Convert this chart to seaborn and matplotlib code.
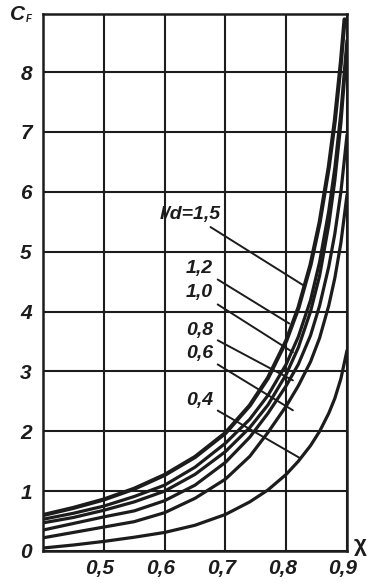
import matplotlib
matplotlib.use("Agg")
import matplotlib.pyplot as plt
import matplotlib.transforms as mtransforms
import numpy as np
import pandas as pd
import seaborn as sns

# ---- data ----
curve_labels = ["l/d=1,5", "1,2", "1,0", "0,8", "0,6", "0,4"]

chi_15 = [0.40, 0.45, 0.50, 0.55, 0.60, 0.65, 0.70, 0.74, 0.77, 0.80, 0.82, 0.84, 0.855, 0.87, 0.88, 0.89, 0.896]
cf_15 = [0.60, 0.72, 0.86, 1.04, 1.27, 1.57, 1.97, 2.43, 2.89, 3.51, 4.06, 4.78, 5.49, 6.41, 7.19, 8.17, 8.88]

chi_12 = [0.40, 0.45, 0.50, 0.55, 0.60, 0.65, 0.70, 0.74, 0.77, 0.80, 0.82, 0.84, 0.855, 0.87, 0.88, 0.89, 0.90]
cf_12 = [0.53, 0.63, 0.75, 0.91, 1.10, 1.40, 1.80, 2.20, 2.60, 3.12, 3.58, 4.19, 4.83, 5.68, 6.40, 7.33, 8.53]

chi_10 = [0.40, 0.45, 0.50, 0.55, 0.60, 0.65, 0.70, 0.74, 0.77, 0.80, 0.82, 0.84, 0.855, 0.87, 0.88, 0.89, 0.90]
cf_10 = [0.47, 0.56, 0.68, 0.82, 1.00, 1.28, 1.66, 2.06, 2.44, 2.95, 3.40, 4.00, 4.60, 5.45, 6.19, 7.15, 8.42]

chi_08 = [0.40, 0.45, 0.50, 0.55, 0.60, 0.65, 0.70, 0.74, 0.77, 0.80, 0.82, 0.84, 0.855, 0.87, 0.88, 0.89, 0.90]
cf_08 = [0.35, 0.46, 0.57, 0.67, 0.84, 1.10, 1.48, 1.90, 2.30, 2.76, 3.12, 3.60, 4.10, 4.75, 5.30, 6.00, 6.95]

chi_06 = [0.40, 0.45, 0.50, 0.55, 0.60, 0.65, 0.70, 0.74, 0.77, 0.80, 0.82, 0.84, 0.855, 0.87, 0.88, 0.89, 0.90]
cf_06 = [0.22, 0.31, 0.40, 0.49, 0.64, 0.88, 1.20, 1.58, 1.98, 2.42, 2.76, 3.16, 3.56, 4.10, 4.56, 5.15, 5.95]

chi_04 = [0.40, 0.45, 0.50, 0.55, 0.60, 0.65, 0.70, 0.74, 0.77, 0.80, 0.82, 0.84, 0.855, 0.87, 0.88, 0.89, 0.90]
cf_04 = [0.05, 0.10, 0.16, 0.23, 0.31, 0.43, 0.61, 0.82, 1.02, 1.28, 1.50, 1.76, 2.00, 2.30, 2.55, 2.88, 3.35]

x_ticks = [0.5, 0.6, 0.7, 0.8, 0.9]
x_ticklabels = ["0,5", "0,6", "0,7", "0,8", "0,9"]
y_ticks = [0, 1, 2, 3, 4, 5, 6, 7, 8]
y_ticklabels = ["0", "1", "2", "3", "4", "5", "6", "7", "8"]

# label text position and leader end (data coords)
label_xy = [(0.693, 5.62), (0.680, 4.72), (0.680, 4.31), (0.680, 3.68), (0.680, 3.30), (0.680, 2.52)]
leader_end = [(0.828, 4.44), (0.805, 3.80), (0.811, 3.32), (0.811, 2.85), (0.811, 2.35), (0.823, 1.55)]

frames = []
for lab, xs, ys in zip(curve_labels,
                       [chi_15, chi_12, chi_10, chi_08, chi_06, chi_04],
                       [cf_15, cf_12, cf_10, cf_08, cf_06, cf_04]):
    frames.append(pd.DataFrame({"chi": xs, "cf": ys, "ld": lab}))
df = pd.concat(frames, ignore_index=True)

sns.set_style("white")
plt.rcParams["font.family"] = ["Liberation Sans", "DejaVu Sans"]
INK = "#1c1c1c"

fig = plt.figure(figsize=(3.75, 5.83), dpi=100)
ax = fig.add_axes([43 / 375, 32 / 583, 304 / 375, 537 / 583])

sns.lineplot(data=df, x="chi", y="cf", hue="ld", palette=[INK] * 6,
             estimator=None, sort=False, legend=False, linewidth=2.3, ax=ax)
ax.lines[0].set_linewidth(3.0)
for ln in ax.lines:
    ln.set_solid_joinstyle("round")
    ln.set_solid_capstyle("round")

ax.set_xlim(0.4, 0.9)
ax.set_ylim(0, 8.97)
ax.set_xticks(x_ticks)
ax.set_xticklabels(x_ticklabels)
ax.set_yticks(y_ticks)
ax.set_yticklabels(y_ticklabels)
ax.grid(True, color=INK, linewidth=1.5)
ax.set_axisbelow(True)
for s in ax.spines.values():
    s.set_color(INK)
    s.set_linewidth(1.8)
ax.tick_params(length=0)
ax.tick_params(axis="x", pad=6)
ax.tick_params(axis="y", pad=8)
for t in ax.get_xticklabels() + ax.get_yticklabels():
    t.set_fontsize(15)
    t.set_fontweight("bold")
    t.set_fontstyle("italic")
    t.set_color(INK)
ax.set_xlabel("")
ax.set_ylabel("")
offset = mtransforms.ScaledTranslation(-4 / 100, 0, fig.dpi_scale_trans)
for t in ax.get_xticklabels():
    t.set_transform(t.get_transform() + offset)

for lab, (tx, ty), (ex, ey) in zip(curve_labels, label_xy, leader_end):
    ax.annotate(lab, xy=(ex, ey), xytext=(tx, ty), ha="right", va="center",
                fontsize=14, fontweight="bold", fontstyle="italic", color=INK,
                arrowprops=dict(arrowstyle="-", color=INK, lw=1.4,
                                shrinkA=1, shrinkB=0))

fig.text(10 / 375, 1 - 15 / 583, "C", fontsize=15, fontweight="bold", fontstyle="italic",
         ha="left", va="center", color=INK)
fig.text(26 / 375, 1 - 19 / 583, "F", fontsize=7, fontweight="bold", fontstyle="italic",
         ha="left", va="center", color=INK)
fig.text(360 / 375, 1 - 545 / 583, "χ", fontsize=16, fontweight="bold", ha="center",
         va="center", color=INK)

fig.savefig("out.png", dpi=100)
